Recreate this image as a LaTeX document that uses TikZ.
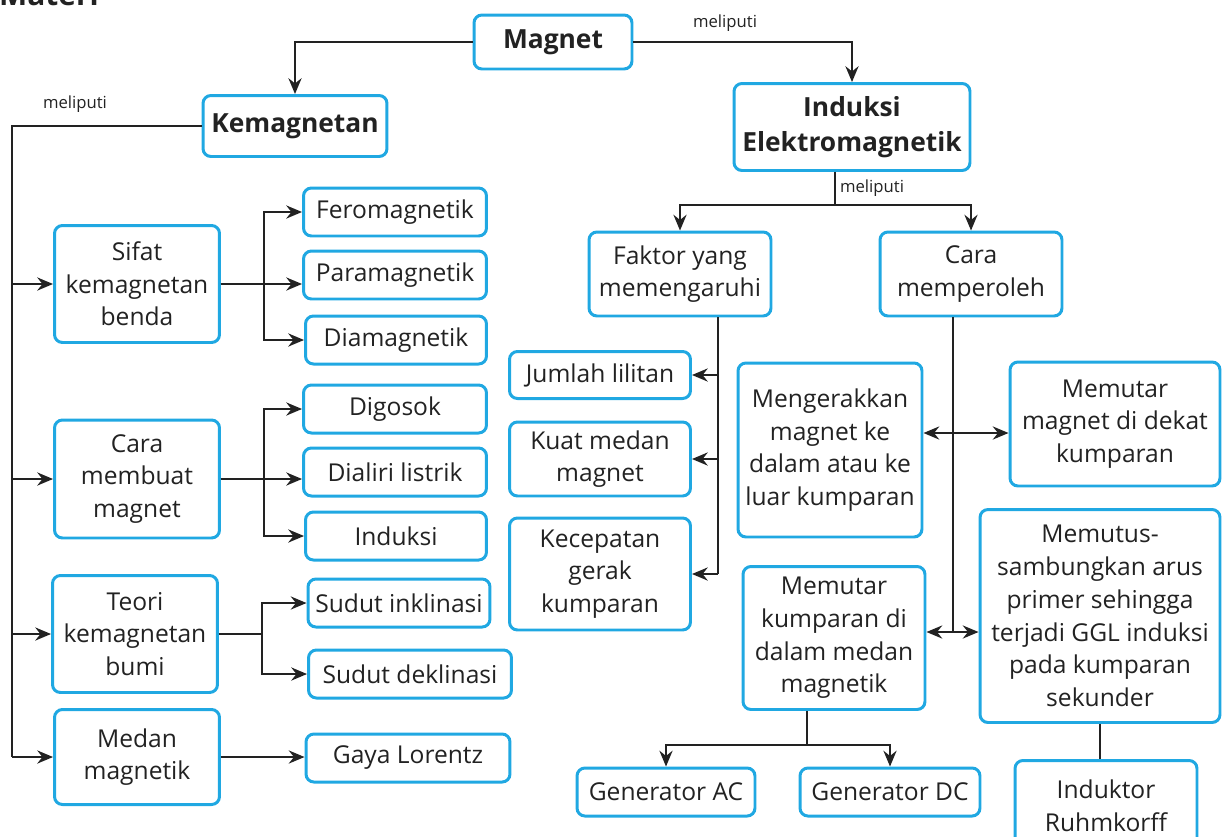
\documentclass[tikz,border=0pt]{standalone}
\usepackage{fontspec}
\setmainfont{Open Sans}
\usetikzlibrary{arrows.meta}
\definecolor{biru}{RGB}{32,168,226}
\definecolor{gelap}{RGB}{34,34,34}
\tikzstyle{Kotak}=[draw=biru, line width=1.7pt, rounded corners=4.5pt, align=center, inner sep=2pt, text=gelap, font=\fontsize{14}{18.6}\selectfont]
\tikzstyle{Judul}=[Kotak, font=\bfseries\fontsize{15}{19.8}\selectfont]
\tikzstyle{Garis}=[draw=gelap, line width=1.2pt]
\tikzstyle{Panah}=[Garis, -{Stealth[length=9pt,width=7.5pt,inset=3pt]}]
\tikzstyle{Panah2}=[Garis, {Stealth[length=9pt,width=7.5pt,inset=3pt]}-{Stealth[length=9pt,width=7.5pt,inset=3pt]}]
\tikzstyle{Label}=[text=gelap, font=\fontsize{9.5}{11}\selectfont]

\begin{document}
\begin{tikzpicture}[x=0.02cm,y=-0.02cm]
\useasboundingbox (0,0) rectangle (1226,836);

		\node [anchor=base west, text=gelap, font=\bfseries\fontsize{17}{20}\selectfont] (materi) at (-7,5) {Materi};

		\node [Judul, minimum width=3.16cm, minimum height=1.08cm] (magnet) at (553,42) {Magnet};
		\node [Judul, minimum width=3.68cm, minimum height=1.22cm] (kemag) at (295,126) {Kemagnetan};
		\node [Judul, minimum width=4.72cm, minimum height=1.74cm] (induksi) at (852,127) {Induksi\\Elektromagnetik};

		\node [Kotak, minimum width=3.3cm, minimum height=2.34cm] (sifat) at (137,284) {Sifat\\kemagnetan\\benda};
		\node [Kotak, minimum width=3.3cm, minimum height=2.36cm] (cara) at (137,479) {Cara\\membuat\\magnet};
		\node [Kotak, minimum width=3.3cm, minimum height=2.34cm] (teori) at (135,634) {Teori\\kemagnetan\\bumi};
		\node [Kotak, minimum width=3.3cm, minimum height=1.9cm] (medan) at (137,757) {Medan\\magnetik};

		\node [Kotak, minimum width=3.66cm, minimum height=0.96cm] (fero) at (395,212) {Feromagnetik};
		\node [Kotak, minimum width=3.66cm, minimum height=0.96cm] (para) at (395,275) {Paramagnetik};
		\node [Kotak, minimum width=3.62cm, minimum height=0.96cm] (dia) at (396,340) {Diamagnetik};
		\node [Kotak, minimum width=3.66cm, minimum height=0.96cm] (gosok) at (395,409) {Digosok};
		\node [Kotak, minimum width=3.66cm, minimum height=0.96cm] (dialiri) at (395,472) {Dialiri listrik};
		\node [Kotak, minimum width=3.62cm, minimum height=0.96cm] (indk) at (396,536) {Induksi};
		\node [Kotak, minimum width=3.64cm, minimum height=0.96cm] (inkl) at (399,603) {Sudut inklinasi};
		\node [Kotak, minimum width=4.06cm, minimum height=0.96cm] (dekl) at (410,674) {Sudut deklinasi};
		\node [Kotak, minimum width=4.08cm, minimum height=0.96cm] (lorentz) at (408,758) {Gaya Lorentz};

		\node [Kotak, minimum width=3.64cm, minimum height=1.68cm] (faktor) at (680,274) {Faktor yang\\memengaruhi};
		\node [Kotak, minimum width=3.64cm, minimum height=1.68cm] (caraper) at (971,274) {Cara\\memperoleh};
		\node [Kotak, minimum width=3.62cm, minimum height=0.94cm] (jumlah) at (600,375) {Jumlah lilitan};
		\node [Kotak, minimum width=3.62cm, minimum height=1.48cm] (kuat) at (600,459) {Kuat medan\\magnet};
		\node [Kotak, minimum width=3.62cm, minimum height=2.24cm] (kecep) at (600,574) {Kecepatan\\gerak\\kumparan};
		\node [Kotak, minimum width=3.68cm, minimum height=3.48cm] (gerak) at (830,450) {Mengerakkan\\magnet ke\\dalam atau ke\\luar kumparan};
		\node [Kotak, minimum width=4.2cm, minimum height=2.48cm] (putarmag) at (1115,424) {Memutar\\magnet di dekat\\kumparan};
		\node [Kotak, minimum width=3.64cm, minimum height=2.86cm] (putarkump) at (834,638) {Memutar\\kumparan di\\dalam medan\\magnetik};
		\node [Kotak, minimum width=4.8cm, minimum height=4.26cm] (putus) at (1100,616) {Memutus-\\sambungkan arus\\primer sehingga\\terjadi GGL induksi\\pada kumparan\\sekunder};
		\node [Kotak, minimum width=3.56cm, minimum height=0.96cm] (genac) at (666,792) {Generator AC};
		\node [Kotak, minimum width=3.6cm, minimum height=0.96cm] (gendc) at (890,792) {Generator DC};
		\node [Kotak, minimum width=3.64cm, minimum height=1.82cm] (ruhm) at (1106,806) {Induktor\\Ruhmkorff};

		\coordinate (kiri) at (12,0);
		\coordinate (cab1) at (835,205);
		\coordinate (cab2) at (718,0);
		\coordinate (pj1) at (953,433);
		\coordinate (pj2) at (953,632);
		\coordinate (cab4) at (807,745);

		\draw[Panah] (magnet.west) -| (kemag.north);
		\draw[Panah] (magnet.east) -| (induksi.north);
		\node [Label] (lbl1) at (725,23) {meliputi};

		\draw[Garis] (kemag.west) -| (kiri |- medan.west);
		\node [Label] (lbl2) at (75,104) {meliputi};
		\draw[Panah] (kiri |- sifat.west) -- (sifat.west);
		\draw[Panah] (kiri |- cara.west) -- (cara.west);
		\draw[Panah] (kiri |- teori.west) -- (teori.west);
		\draw[Panah] (kiri |- medan.west) -- (medan.west);

		\draw[Panah] (sifat.east) -- ++(43,0) |- (fero.west);
		\draw[Panah] (sifat.east) -- (sifat.east -| para.west);
		\draw[Panah] (sifat.east) -- ++(43,0) |- (dia.west);
		\draw[Panah] (cara.east) -- ++(43,0) |- (gosok.west);
		\draw[Panah] (cara.east) -- (cara.east -| dialiri.west);
		\draw[Panah] (cara.east) -- ++(43,0) |- (indk.west);
		\draw[Panah] (teori.east) -- ++(43,0) |- (inkl.west);
		\draw[Panah] (teori.east) -- ++(43,0) |- (dekl.west);
		\draw[Panah] (medan.east) -- (medan.east -| lorentz.west);

		\draw[Garis] (induksi.south -| cab1) -- (cab1);
		\draw[Panah] (cab1) -| (faktor.north);
		\draw[Panah] (cab1) -| (caraper.north);
		\node [Label] (lbl3) at (872,188) {meliputi};

		\draw[Garis] (faktor.south -| cab2) -- (cab2 |- kecep.east);
		\draw[Panah] (cab2 |- jumlah.east) -- (jumlah.east);
		\draw[Panah] (cab2 |- kuat.east) -- (kuat.east);
		\draw[Panah] (cab2 |- kecep.east) -- (kecep.east);

		\draw[Garis] (caraper.south -| pj1) -- (pj2);
		\draw[Panah2] (pj1 -| gerak.east) -- (pj1 -| putarmag.west);
		\draw[Panah2] (pj2 -| putarkump.east) -- (pj2 -| putus.west);

		\draw[Garis] (putarkump.south -| cab4) -- (cab4);
		\draw[Panah] (cab4) -| (genac.north);
		\draw[Panah] (cab4) -| (gendc.north);

		\draw[Garis] (putus.south) -- (putus.south |- ruhm.north);

\end{tikzpicture}
\end{document}
